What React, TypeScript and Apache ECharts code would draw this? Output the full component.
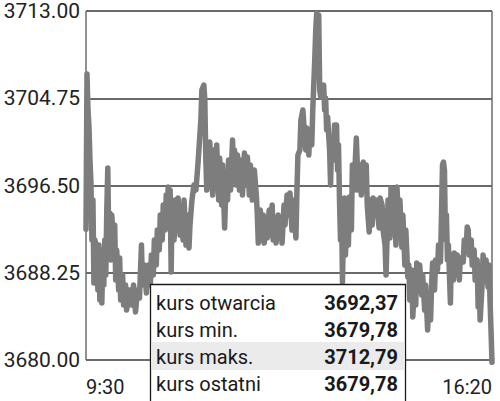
import React, { useEffect, useRef } from "react";
import * as echarts from "echarts";

// minutes since 9:30
const minutes = [
  0, 1, 2, 3, 4, 5, 6, 7, 8, 9, 11, 12, 13, 14, 15, 16, 17, 18, 19, 20,
  21, 22, 23, 24, 25, 26, 28, 29, 30, 31, 33, 34, 35, 37, 38, 40, 41, 44, 46, 48,
  50, 52, 54, 56, 57, 59, 61, 63, 65, 66, 68, 69, 71, 72, 74, 75, 77, 78, 80, 81,
  82, 83, 84, 85, 86, 87, 89, 90, 92, 93, 95, 96, 98, 99, 101, 102, 104, 105, 107, 109,
  111, 113, 114, 116, 117, 119, 120, 121, 122, 123, 124, 125, 128, 129, 131, 132, 134, 135, 137, 138,
  140, 141, 143, 144, 146, 148, 149, 150, 152, 153, 155, 157, 158, 160, 161, 163, 165, 166, 168, 170,
  172, 173, 174, 176, 177, 179, 180, 182, 183, 185, 186, 188, 189, 191, 192, 194, 195, 197, 198, 200,
  201, 203, 205, 206, 208, 209, 212, 213, 214, 216, 217, 219, 220, 222, 223, 225, 226, 228, 229, 231,
  232, 233, 234, 235, 236, 237, 238, 240, 241, 242, 243, 244, 246, 247, 248, 250, 251, 252, 253, 254,
  255, 256, 257, 258, 259, 260, 261, 262, 264, 265, 266, 268, 269, 271, 272, 273, 274, 275, 277, 278,
  280, 281, 283, 284, 286, 287, 289, 290, 292, 293, 296, 297, 299, 300, 302, 303, 304, 305, 307, 308,
  310, 311, 313, 314, 316, 317, 319, 320, 322, 323, 325, 326, 327, 329, 330, 332, 333, 334, 336, 337,
  339, 340, 342, 343, 345, 346, 348, 349, 350, 352, 353, 355, 356, 358, 359, 360, 361, 362, 363, 364,
  365, 366, 368, 369, 371, 372, 374, 375, 377, 378, 381, 382, 384, 385, 386, 387, 389, 390, 392, 393,
  395, 396, 397, 398, 400, 401, 403, 404, 406, 407, 408, 409, 410
];

const values = [
  3692.37, 3707.04, 3703.64, 3702.03, 3698.91, 3696.74, 3691.35, 3695.13, 3687.28, 3691.35,
  3690.40, 3686.62, 3690.87, 3685.67, 3690.40, 3685.39, 3689.46, 3687.09, 3691.35, 3688.04,
  3694.18, 3698.15, 3691.35, 3693.90, 3689.46, 3693.71, 3690.87, 3692.76, 3687.56, 3690.40,
  3686.62, 3689.64, 3685.67, 3688.04, 3685.20, 3687.09, 3684.73, 3686.62, 3685.20, 3687.09,
  3684.54, 3686.62, 3685.86, 3690.87, 3687.09, 3688.98, 3686.34, 3688.98, 3687.09, 3689.93,
  3688.04, 3691.35, 3688.98, 3692.29, 3690.40, 3693.71, 3691.35, 3694.66, 3692.29, 3695.60,
  3693.71, 3696.36, 3694.66, 3696.07, 3688.32, 3694.66, 3691.35, 3695.13, 3692.29, 3695.32,
  3691.82, 3694.18, 3691.35, 3695.13, 3690.87, 3693.71, 3690.59, 3692.76, 3695.13, 3696.55,
  3696.07, 3698.44, 3699.86, 3702.69, 3705.53, 3706.00, 3704.58, 3698.91, 3696.07, 3700.33,
  3696.55, 3700.61, 3695.60, 3699.86, 3697.02, 3700.33, 3695.13, 3699.10, 3694.66, 3698.44,
  3692.48, 3695.60, 3695.13, 3698.91, 3696.07, 3700.80, 3697.49, 3699.86, 3696.55, 3699.38,
  3696.07, 3698.91, 3695.60, 3699.57, 3696.55, 3699.19, 3695.60, 3698.44, 3695.13, 3697.97,
  3695.60, 3693.71, 3691.06, 3694.18, 3691.35, 3693.71, 3691.06, 3693.24, 3691.54, 3694.18,
  3691.82, 3694.66, 3691.35, 3693.24, 3691.06, 3693.71, 3691.54, 3692.76, 3691.06, 3694.66,
  3692.76, 3695.60, 3693.71, 3695.79, 3692.29, 3695.13, 3691.54, 3695.89, 3699.38, 3699.86,
  3702.69, 3703.64, 3702.22, 3699.86, 3701.94, 3699.38, 3701.75, 3700.33, 3703.64, 3708.37,
  3711.20, 3712.79, 3711.68, 3712.62, 3705.53, 3704.87, 3705.72, 3706.00, 3703.64, 3704.77,
  3701.75, 3702.98, 3699.86, 3696.55, 3700.80, 3698.91, 3702.22, 3701.27, 3702.22, 3697.97,
  3700.33, 3695.13, 3691.35, 3695.13, 3687.38, 3692.29, 3695.32, 3689.93, 3695.13, 3690.87,
  3695.41, 3692.29, 3698.44, 3696.07, 3698.91, 3700.99, 3698.44, 3696.07, 3698.44, 3695.60,
  3698.72, 3696.07, 3698.44, 3694.66, 3692.10, 3695.13, 3692.76, 3695.32, 3693.71, 3695.13,
  3692.48, 3695.32, 3694.66, 3692.29, 3690.87, 3688.04, 3691.35, 3695.13, 3691.54, 3696.26,
  3692.29, 3696.07, 3690.87, 3696.36, 3692.76, 3695.13, 3690.68, 3693.71, 3688.98, 3692.29,
  3687.85, 3688.98, 3685.67, 3688.51, 3684.07, 3687.56, 3685.20, 3689.17, 3686.62, 3688.98,
  3686.15, 3688.04, 3684.73, 3687.09, 3682.84, 3685.67, 3683.78, 3687.09, 3689.17, 3686.62,
  3689.46, 3688.51, 3690.87, 3689.27, 3693.71, 3698.44, 3698.72, 3697.97, 3691.35, 3693.71,
  3689.46, 3690.87, 3685.39, 3689.93, 3687.56, 3690.12, 3688.04, 3689.93, 3687.56, 3689.64,
  3689.27, 3691.35, 3690.87, 3692.58, 3692.29, 3689.93, 3691.35, 3688.98, 3690.40, 3687.56,
  3689.46, 3685.01, 3687.56, 3683.78, 3687.09, 3689.93, 3688.04, 3689.46, 3686.90, 3688.98,
  3685.67, 3682.84, 3679.78
];

const yTicks = [3680, 3688.25, 3696.5, 3704.75, 3713];
const xTickMinutes = [0, 410];
const xTickLabels = ["9:30", "16:20"];

const tableLabels = ["kurs otwarcia", "kurs min.", "kurs maks.", "kurs ostatni"];
const tableValues = ["3692,37", "3679,78", "3712,79", "3679,78"];
const highlightedRow = 2;

const FONT = "Roboto, sans-serif";

export default function App() {
  const ref = useRef<HTMLDivElement>(null);

  useEffect(() => {
    if (!ref.current) return;
    const chart = echarts.init(ref.current, null, { renderer: "svg" });

    const tableX = 150.5;
    const tableY = 284.5;
    const rowH = 27;
    const firstRowY = 302.5;

    const graphics: any[] = [
      {
        type: "rect",
        z: 100,
        shape: { x: tableX, y: tableY, width: 255, height: 125 },
        style: { fill: "#ffffff", stroke: "#1a1a1a", lineWidth: 1.3 },
      },
      {
        type: "rect",
        z: 101,
        shape: { x: tableX + 1, y: firstRowY + highlightedRow * rowH - 14.5, width: 253, height: 28 },
        style: { fill: "#ebebeb" },
      },
    ];
    tableLabels.forEach((lbl, i) => {
      graphics.push({
        type: "text",
        z: 102,
        x: 156,
        y: firstRowY + i * rowH,
        style: {
          text: lbl,
          font: `400 20px ${FONT}`,
          fill: "#1a1a1a",
          verticalAlign: "middle",
          align: "left",
        },
      });
      graphics.push({
        type: "text",
        z: 102,
        x: 398,
        y: firstRowY + i * rowH,
        style: {
          text: tableValues[i],
          font: `700 20px ${FONT}`,
          fill: "#1a1a1a",
          verticalAlign: "middle",
          align: "right",
        },
      });
    });

    chart.setOption({
      animation: false,
      grid: {
        left: 86,
        right: 8,
        top: 11,
        bottom: 41,
        show: true,
        borderColor: "#222",
        borderWidth: 1,
        backgroundColor: "transparent",
      },
      xAxis: {
        type: "value",
        min: xTickMinutes[0],
        max: xTickMinutes[1],
        interval: xTickMinutes[1] - xTickMinutes[0],
        axisLine: { show: false },
        axisTick: { show: false },
        splitLine: { show: false },
        axisLabel: {
          margin: 17,
          fontFamily: FONT,
          fontSize: 20,
          color: "#222",
          alignMinLabel: "left",
          alignMaxLabel: "right",
          formatter: (v: number) => {
            const idx = xTickMinutes.indexOf(v);
            return idx >= 0 ? xTickLabels[idx] : "";
          },
        },
      },
      yAxis: {
        type: "value",
        min: yTicks[0],
        max: yTicks[yTicks.length - 1],
        interval: yTicks[1] - yTicks[0],
        axisLine: { show: false },
        axisTick: { show: false },
        splitLine: { show: true, lineStyle: { color: "#6a6a6a", width: 2 } },
        axisLabel: {
          margin: 6,
          fontFamily: FONT,
          fontSize: 21,
          color: "#222",
          formatter: (v: number) => v.toFixed(2),
        },
      },
      series: [
        {
          type: "line",
          data: minutes.map((m, i) => [m, values[i]]),
          showSymbol: false,
          clip: false,
          lineStyle: { color: "#7d7d7d", width: 5.5, cap: "round", join: "round" },
        },
      ],
      graphic: graphics,
    });

    return () => chart.dispose();
  }, []);

  return (
    <div
      ref={ref}
      style={{ position: "absolute", left: 0, top: 0, width: 500, height: 401 }}
    />
  );
}
